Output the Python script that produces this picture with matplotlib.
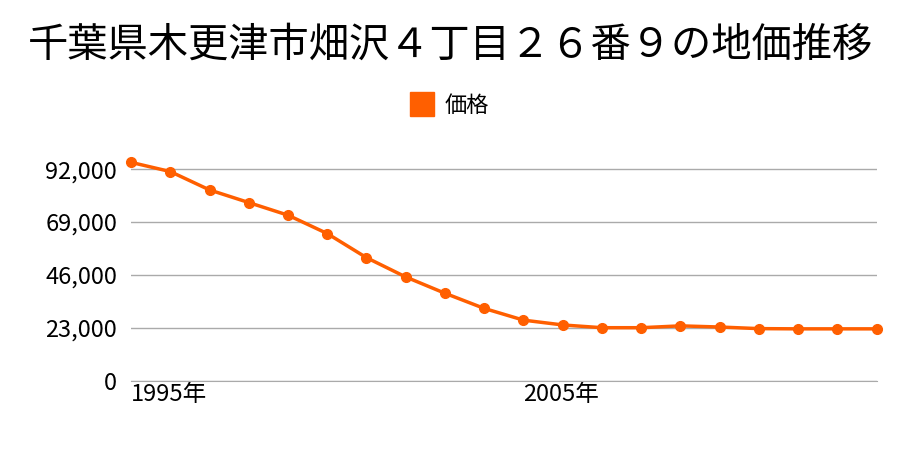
import matplotlib
matplotlib.use("Agg")
import matplotlib.pyplot as plt
from matplotlib.ticker import FuncFormatter

plt.rcParams['font.family'] = ['Noto Sans CJK JP', 'DejaVu Sans']

# data
years = [1995, 1996, 1997, 1998, 1999, 2000, 2001, 2002, 2003, 2004,
         2005, 2006, 2007, 2008, 2009, 2010, 2011, 2012, 2013, 2014]
prices = [95000, 91000, 83000, 77500, 72000, 64000, 53500, 45100, 38000, 31400,
          26300, 24200, 23000, 23000, 23800, 23300, 22600, 22500, 22500, 22500]
yticks = [0, 23000, 46000, 69000, 92000]
xticks = [1995, 2005]
xtick_labels = ['1995年', '2005年']
title = '千葉県木更津市畑沢４丁目２６番９の地価推移'
orange = '#ff5f00'

fig = plt.figure(figsize=(9, 4.5), dpi=100)
ax = fig.add_axes([0.1456, 0.1544, 0.974 - 0.1456, 0.6647 - 0.1544])

ax.plot(years, prices, color=orange, lw=2.5, marker='o', ms=7, clip_on=False, zorder=3)

ax.set_xlim(1995, 2014)
ax.set_ylim(0, 100000)
ax.set_yticks(yticks)
ax.yaxis.set_major_formatter(FuncFormatter(lambda v, p: f'{int(v):,}'))
ax.set_xticks(xticks)
ax.set_xticklabels(xtick_labels, ha='left')
ax.grid(axis='y', color='#aaaaaa', lw=1)
ax.set_axisbelow(True)
for s in ['top', 'right', 'left']:
    ax.spines[s].set_visible(False)
ax.spines['bottom'].set_color('#aaaaaa')
ax.tick_params(axis='both', length=0, labelsize=17)
ax.tick_params(axis='y', pad=10)
ax.tick_params(axis='x', pad=2)

fig.text(0.5, 0.9, title, ha='center', va='center', fontsize=29)
ax.plot([], [], 's', color=orange, ms=17, label='価格')
ax.legend(loc='center', bbox_to_anchor=(0.5, 0.765), bbox_transform=fig.transFigure,
          frameon=False, fontsize=16, handlelength=1.0, handletextpad=0.5)

fig.savefig('out.png', dpi=100)
